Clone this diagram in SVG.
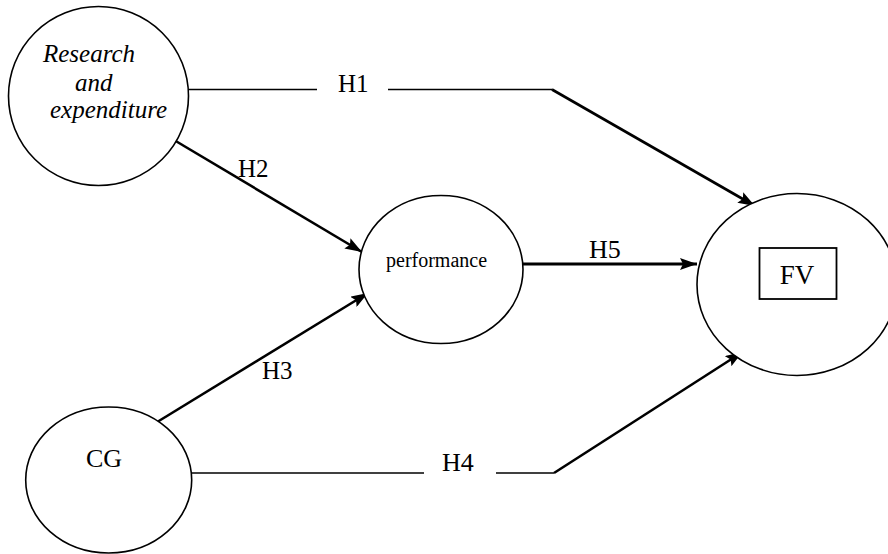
<svg xmlns="http://www.w3.org/2000/svg" width="888" height="554" viewBox="0 0 888 554">
<style>
.node{fill:#fff;stroke:#000;stroke-width:1.6}
text{font-family:'Liberation Serif','Times New Roman',Times,'DejaVu Serif',serif;fill:#000}
.thin{fill:none;stroke:#000;stroke-width:1.6}
.thick{fill:none;stroke:#000;stroke-width:2.6}
</style>
<defs>
<marker id="arr" markerUnits="userSpaceOnUse" markerWidth="18" markerHeight="12" refX="17" refY="6" orient="auto">
<path d="M0,0 L17,6 L0,12 L3,6 z" fill="#000"/>
</marker>
</defs>
<rect width="888" height="554" fill="#fff"/>
<g id="connectors" font-family="'Liberation Serif', serif">
<g id="h1">
<line class="thin" x1="188" y1="89.5" x2="317" y2="89.5"/>
<line class="thin" x1="388" y1="89.5" x2="552" y2="89.5"/>
<line class="thick" x1="552" y1="89.5" x2="755" y2="206" marker-end="url(#arr)"/>
<text x="338" y="92" font-size="25">H1</text>
</g>
<g id="h2">
<line class="thick" x1="174" y1="140" x2="362" y2="252" marker-end="url(#arr)"/>
<text x="238" y="177" font-size="25">H2</text>
</g>
<g id="h3">
<line class="thick" x1="158" y1="421.5" x2="368" y2="293" marker-end="url(#arr)"/>
<text x="262" y="379" font-size="25">H3</text>
</g>
<g id="h4">
<line class="thin" x1="192" y1="473" x2="424" y2="473"/>
<line class="thin" x1="496" y1="473" x2="554" y2="473"/>
<line class="thick" x1="554" y1="473" x2="742.5" y2="352" marker-end="url(#arr)"/>
<text x="442" y="471" font-size="26">H4</text>
</g>
<g id="h5">
<line x1="523" y1="264" x2="697" y2="264" stroke="#000" stroke-width="3" marker-end="url(#arr)"/>
<text x="589" y="258" font-size="26">H5</text>
</g>
</g>
<g id="research" font-family="'Liberation Serif', serif">
<ellipse class="node" cx="98.5" cy="96" rx="90" ry="89.5"/>
<text font-size="25" font-style="italic"><tspan x="43" y="62">Research</tspan><tspan x="75" y="91">and</tspan><tspan x="50" y="118">expenditure</tspan></text>
</g>
<g id="performance" font-family="'Liberation Serif', serif">
<ellipse class="node" cx="441" cy="269.5" rx="82" ry="74"/>
<text x="386" y="267" font-size="20">performance</text>
</g>
<g id="cg" font-family="'Liberation Serif', serif">
<ellipse class="node" cx="108.7" cy="480" rx="83" ry="73"/>
<text x="86" y="467" font-size="26">CG</text>
</g>
<g id="fv" font-family="'Liberation Serif', serif">
<ellipse class="node" cx="797" cy="284.5" rx="100" ry="91"/>
<rect x="759.5" y="248" width="77" height="51" fill="#fff" stroke="#000" stroke-width="1.8"/>
<text x="797" y="284" font-size="27" text-anchor="middle">FV</text>
</g>
</svg>
